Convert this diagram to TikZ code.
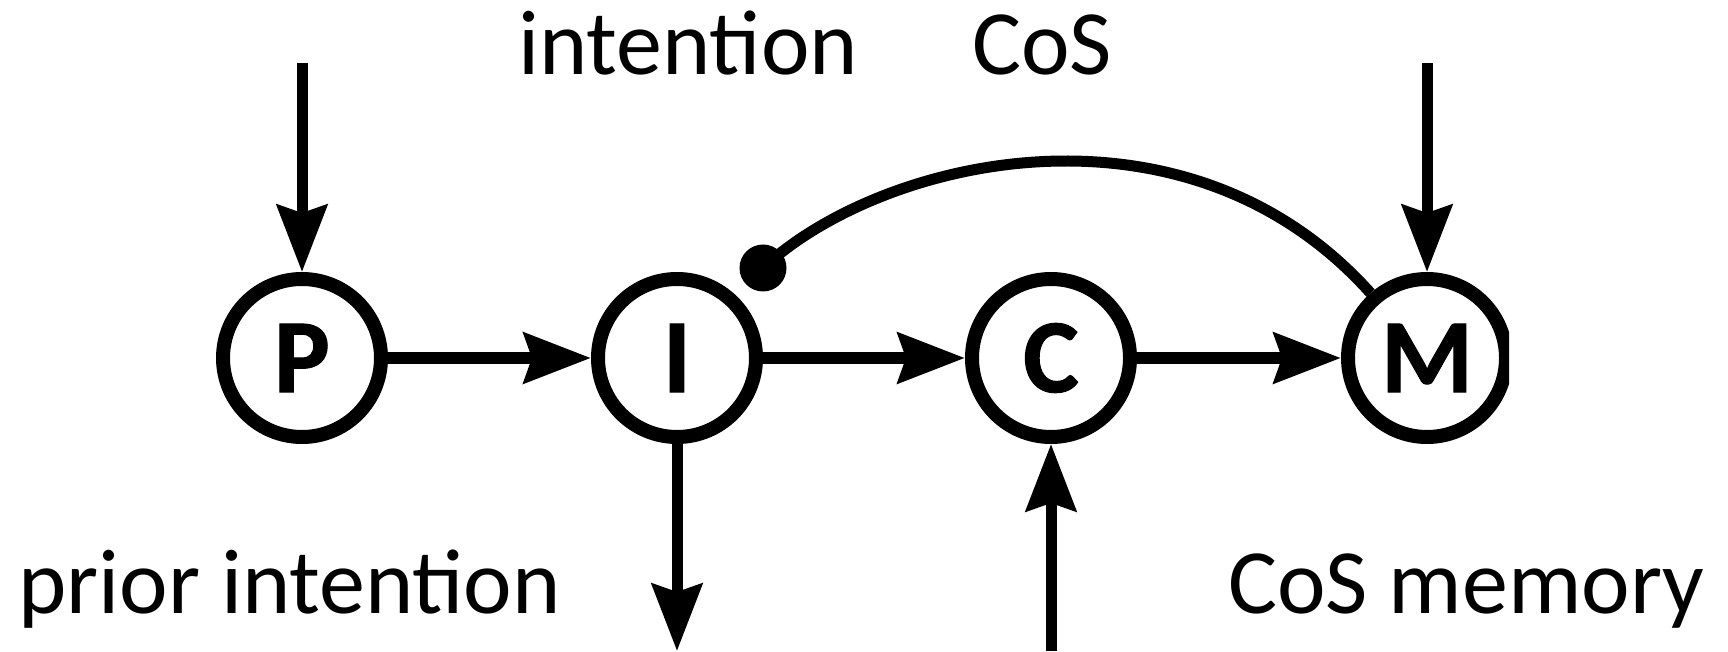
\documentclass[tikz,border=0pt]{standalone}
\usepackage{fontspec}
\setmainfont{Carlito}
\newfontfamily\statefont{Carlito Bold}[FakeBold=1]
\usetikzlibrary{arrows.meta}
\begin{document}
\begin{tikzpicture}[x=1pt,y=1pt,
  state/.style={circle,draw,line width=14pt,minimum size=158pt,inner sep=0pt,
    font=\statefont\fontsize{105}{110}\selectfont},
  lbl/.style={inner sep=0pt,anchor=base west,font=\fontsize{92}{100}\selectfont},
  arr/.style={line width=12pt,-{Stealth[length=67pt,width=50pt,inset=8pt]}},
  varr/.style={line width=11pt,-{Stealth[length=67pt,width=50pt,inset=8pt]}},
  inh/.style={line width=11pt}]
\useasboundingbox (0,0) rectangle (1728,651);
\node[state] (P) at (302,293) {P};
\node[state] (I) at (677,293) {I};
\node[state] (C) at (1051,293) {C};
\begin{scope}
\clip (0,0) rectangle (1509,651);
\node[state] (M) at (1427,293) {M};
\end{scope}
\coordinate (pin) at (302,588);
\coordinate (min) at (1427,588);
\coordinate (iout) at (677,0);
\coordinate (cin) at (1051,0);
\node[lbl] (l1) at (518,576) {intention};
\node[lbl] (l2) at (972,576) {CoS};
\node[lbl] (l3) at (18,38) {prior intention};
\node[lbl] (l4) at (1228,38) {CoS memory};
\draw[varr] (pin) -- (P.north);
\draw[varr] (min) -- (M.north);
\draw[arr] (P.east) -- (I.west);
\draw[arr] (I.east) -- (C.west);
\draw[arr] (C.east) -- (M.west);
\draw[varr] (I.south) -- (iout);
\draw[varr] (cin) -- (C.south);
\node[circle,fill,inner sep=0pt,minimum size=47pt] (dot) at (763,383) {};
\draw[inh] (dot.center) .. controls (881,493) and (1185,565) .. (M.131);
\end{tikzpicture}
\end{document}
